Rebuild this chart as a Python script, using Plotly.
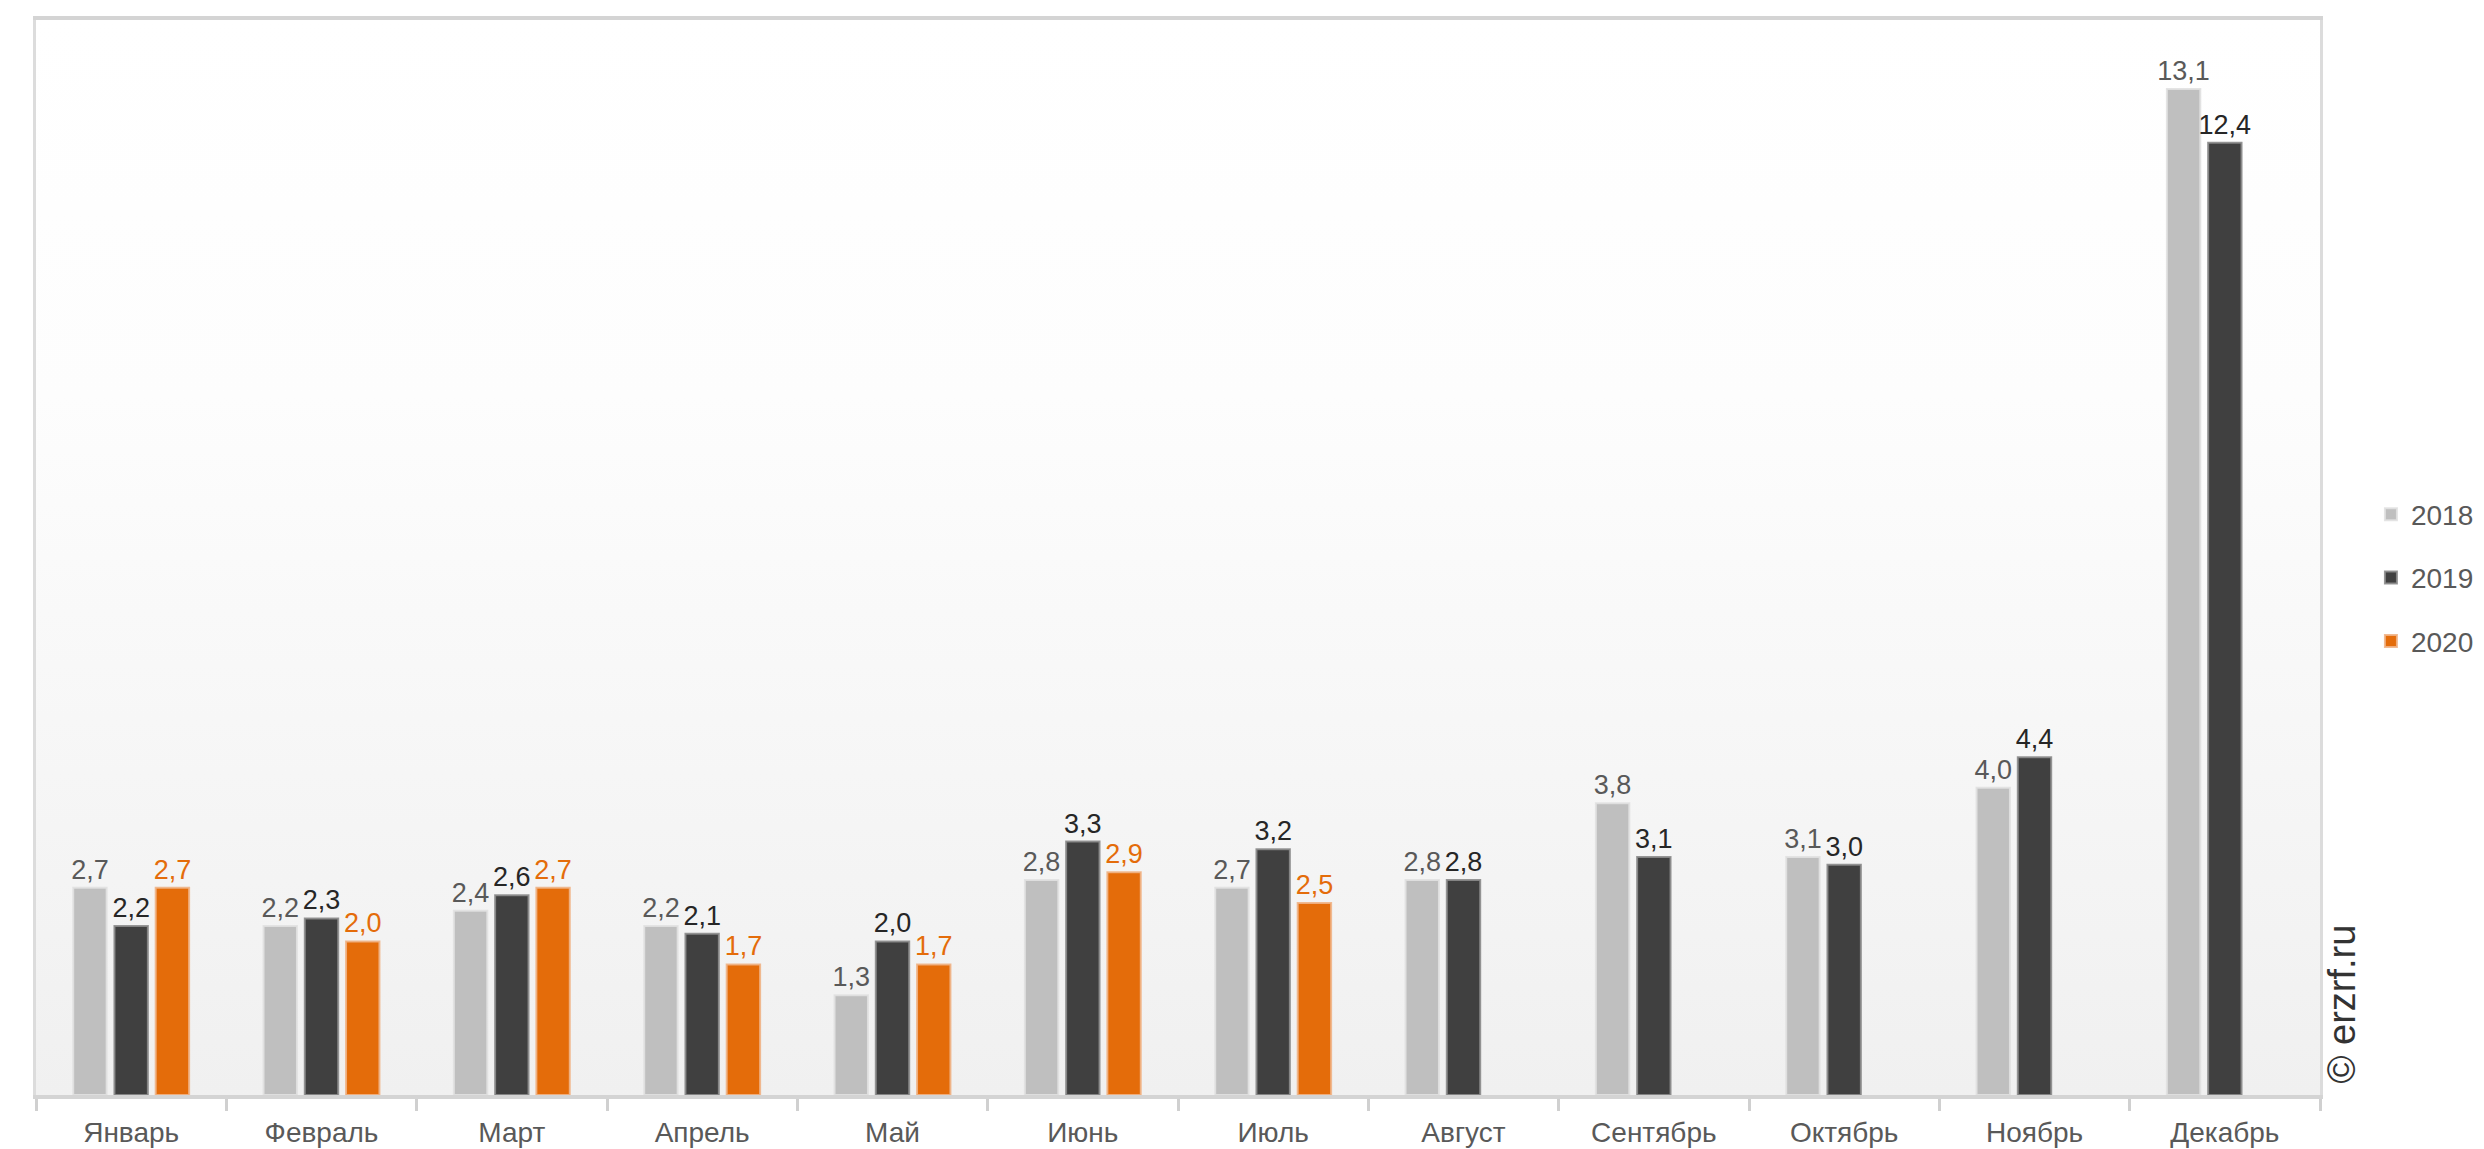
import base64
import plotly.graph_objects as go

months = ["Январь", "Февраль", "Март", "Апрель", "Май", "Июнь",
          "Июль", "Август", "Сентябрь", "Октябрь", "Ноябрь", "Декабрь"]
v2018 = [2.7, 2.2, 2.4, 2.2, 1.3, 2.8, 2.7, 2.8, 3.8, 3.1, 4.0, 13.1]
v2019 = [2.2, 2.3, 2.6, 2.1, 2.0, 3.3, 3.2, 2.8, 3.1, 3.0, 4.4, 12.4]
v2020 = [2.7, 2.0, 2.7, 1.7, 1.7, 2.9, 2.5, None, None, None, None, None]
series_names = ["2018", "2019", "2020"]

colors = ["#BFBFBF", "#404040", "#E46C0A"]
label_colors = ["#595959", "#262626", "#E46C0A"]
rim_colors = ["rgba(225,225,225,0.9)", "rgba(140,140,140,0.9)", "rgba(240,180,135,0.9)"]

FONT = "Liberation Sans, Arial, sans-serif"

fig = go.Figure()
for i, (name, vals) in enumerate(zip(series_names, [v2018, v2019, v2020])):
    fig.add_trace(go.Bar(
        x=months, y=vals, name=name,
        marker=dict(color=colors[i], line=dict(color=rim_colors[i], width=2)),
        texttemplate="%{y:.1f}", textposition="outside",
        textfont=dict(family=FONT, size=27, color=label_colors[i]),
        constraintext="none",
        cliponaxis=False, legendgroup=name,
    ))

svg = ('<svg xmlns="http://www.w3.org/2000/svg" width="100" height="100" '
       'preserveAspectRatio="none"><defs><linearGradient id="g" x1="0" y1="0" x2="0" y2="1">'
       '<stop offset="0" stop-color="#ffffff"/><stop offset="0.35" stop-color="#fdfdfd"/>'
       '<stop offset="1" stop-color="#f0f0f0"/></linearGradient></defs>'
       '<rect width="100" height="100" fill="url(#g)"/></svg>')
src = "data:image/svg+xml;base64," + base64.b64encode(svg.encode()).decode()

fig.update_layout(
    width=2484, height=1149,
    margin=dict(l=36, r=164, t=20, b=54, autoexpand=False),
    paper_bgcolor="white", plot_bgcolor="rgba(0,0,0,0)",
    barmode="group", bargap=0.35, bargroupgap=0.19,
    separators=", ",
    font=dict(family=FONT, color="#595959"),
    images=[dict(source=src, xref="paper", yref="paper", x=0, y=1, sizex=1, sizey=1,
                 xanchor="left", yanchor="top", sizing="stretch", layer="below")],
    legend=dict(x=1.0223, y=0.481, xanchor="left", yanchor="middle",
                font=dict(family=FONT, size=28, color="#595959"),
                traceorder="grouped", tracegroupgap=24, bgcolor="rgba(0,0,0,0)"),
    showlegend=True,
    annotations=[dict(text="© erzrf.ru", xref="paper", yref="paper", x=1.0096, y=0.085,
                      xanchor="center", yanchor="middle", textangle=-90, showarrow=False,
                      font=dict(family=FONT, size=38, color="#333333"))],
)

fig.update_xaxes(
    showline=True, linecolor="#d4d4d4", linewidth=4, mirror=True,
    ticks="outside", tickson="boundaries", ticklen=12, tickwidth=3, tickcolor="#d0d0d0",
    tickfont=dict(family=FONT, size=28, color="#595959"),
    ticklabelstandoff=9, showgrid=False, zeroline=False, automargin=False,
)
fig.update_yaxes(
    range=[0, 14], showline=True, linecolor="#dcdcdc", linewidth=3, mirror=True,
    showticklabels=False, ticks="", showgrid=False, zeroline=False, automargin=False,
)

fig.write_html("out.html")
